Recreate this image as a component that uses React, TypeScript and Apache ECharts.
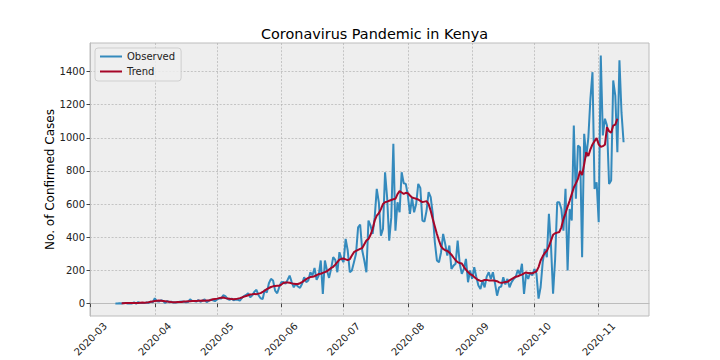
import React, { useEffect, useRef } from "react";
import * as echarts from "echarts";

// Daily confirmed cases, starting 2020-03-13
const observedStartDate = "2020-03-13";
const observed = [
  // Mar 13 - Mar 31
  1, 0, 2, 0, 3, 4, 0, 0, 1, 8, 0, 9, 3, 3, 3, 7, 4, 12, 8,
  // April
  32, 14, 12, 20, 16, 4, 16, 8, 11, 6, 7, 8, 11, 12, 11, 8, 9, 26, 15, 16, 12, 22, 11, 18, 25, 8, 16, 24, 20, 15,
  // May
  25, 30, 30, 50, 45, 28, 22, 30, 20, 25, 23, 18, 35, 45, 52, 62, 38, 50, 72, 83, 50, 32, 28, 83, 66, 123, 149, 139, 78, 62, 100,
  // June
  129, 131, 119, 143, 169, 130, 98, 119, 103, 95, 120, 159, 129, 139, 189, 170, 215, 143, 169, 260, 58, 260, 200, 155, 210, 280, 264, 189, 310, 270,
  // July
  250, 390, 320, 189, 200, 250, 300, 460, 477, 320, 260, 189, 501, 470, 420, 520, 692, 611, 410, 450, 792, 640, 380, 520, 964, 440, 611, 551, 792, 726, 722,
  // August
  652, 541, 640, 551, 600, 722, 698, 501, 495, 560, 672, 642, 541, 370, 260, 249, 310, 420, 360, 290, 350, 209, 229, 240, 380, 240, 179, 209, 270, 129, 200,
  // September
  149, 219, 160, 109, 88, 139, 98, 163, 189, 149, 189, 123, 48, 98, 103, 159, 115, 149, 98, 129, 149, 160, 203, 175, 240, 58, 179, 149, 189, 170,
  // October
  209, 180, 30, 100, 249, 330, 280, 541, 350, 60, 270, 611, 611, 571, 440, 692, 200, 571, 501, 1074, 632, 953, 943, 280, 1024, 883, 1000, 1235, 1396, 692, 732,
  // Nov 1 - Nov 13
  491, 1497, 1014, 1115, 1074, 722, 742, 1346, 1255, 913, 1467, 1150, 973,
];

// Trend (centred weekly mean), starting 2020-03-16
const trendStartDate = "2020-03-16";
const trend = [
  2, 2, 3, 3, 3, 4, 4, 4, 4, 5, 6, 5, 6, 8, 11, 13,
  15, 17, 18, 17, 16, 14, 12, 11, 9, 8, 8, 9, 9, 10, 12, 13, 14, 14, 15, 16, 16, 17, 17, 18, 17, 19, 19, 22, 26, 28,
  30, 33, 35, 37, 33, 31, 29, 27, 26, 27, 30, 33, 37, 42, 46, 50, 55, 56, 58, 57, 60, 63, 70, 79, 87, 94, 100, 104, 106, 107, 108,
  115, 124, 127, 127, 126, 122, 120, 118, 118, 123, 130, 138, 148, 155, 160, 162, 165, 172, 178, 180, 185, 190, 195, 205, 215, 222, 235, 250, 265, 270,
  272, 267, 262, 268, 290, 310, 318, 324, 330, 335, 358, 380, 390, 415, 450, 500, 530, 545, 570, 600, 611, 615, 620, 625, 630, 632, 660, 678, 670, 662, 668,
  666, 652, 640, 636, 632, 628, 620, 612, 615, 618, 600, 560, 510, 465, 420, 380, 345, 330, 322, 318, 308, 295, 278, 262, 250, 245, 242, 222, 205, 190, 178,
  172, 160, 150, 142, 137, 138, 142, 143, 140, 139, 140, 138, 135, 128, 125, 127, 130, 131, 140, 148, 155, 162, 165, 170, 175, 182, 188, 184, 183, 183,
  188, 195, 220, 260, 285, 305, 318, 345, 380, 415, 424, 428, 432, 460, 510, 545, 585, 620, 660, 700, 725, 752, 800, 775, 840, 913, 890, 930, 960, 980, 998,
  960, 945, 950, 958, 1064, 1040, 1030, 1074, 1080, 1115,
];

const monthTickDates = [
  "2020-03-01", "2020-04-01", "2020-05-01", "2020-06-01", "2020-07-01",
  "2020-08-01", "2020-09-01", "2020-10-01", "2020-11-01",
];
const monthTickLabels = [
  "2020-03", "2020-04", "2020-05", "2020-06", "2020-07",
  "2020-08", "2020-09", "2020-10", "2020-11",
];
const yTicks = [0, 200, 400, 600, 800, 1000, 1200, 1400];

function ts(iso: string, offsetDays = 0): number {
  const [y, m, d] = iso.split("-").map(Number);
  return Date.UTC(y, m - 1, d + offsetDays);
}

export default function App() {
  const ref = useRef<HTMLDivElement>(null);

  useEffect(() => {
    if (!ref.current) return;
    const chart = echarts.init(ref.current, null, { renderer: "svg" });

    const obsData = observed.map((v, i) => [ts(observedStartDate, i), v]);
    const trendData = trend.map((v, i) => [ts(trendStartDate, i), v]);
    const tickValues = monthTickDates.map((s) => ts(s));

    const first = obsData[0][0] as number;
    const last = obsData[obsData.length - 1][0] as number;
    const span = last - first;
    const xMin = first - span * 0.05;
    const xMax = last + span * 0.05;
    const maxV = Math.max(...observed);
    const minV = Math.min(...observed);
    const yMin = minV - (maxV - minV) * 0.05;
    const yMax = maxV + (maxV - minV) * 0.05;

    const font = "DejaVu Sans";
    const gridLine = { show: true, lineStyle: { color: "#b2b2b2", type: [2, 1.6], width: 0.7 } };

    chart.setOption({
      animation: false,
      textStyle: { fontFamily: font },
      title: {
        text: "Coronavirus Pandemic in Kenya",
        left: 369.5,
        textAlign: "center",
        top: 22,
        textStyle: { fontFamily: font, fontSize: 14.4, fontWeight: "normal", color: "#000" },
      },
      legend: {
        orient: "vertical",
        left: 95,
        top: 48,
        padding: [3, 6, 4, 5],
        itemGap: 4,
        itemWidth: 22,
        itemHeight: 2,
        icon: "rect",
        backgroundColor: "rgba(238,238,238,0.85)",
        borderColor: "#cfcfcf",
        borderWidth: 1,
        borderRadius: 3,
        textStyle: { fontFamily: font, fontSize: 10, color: "#222", lineHeight: 11 },
        data: ["Observed", "Trend"],
      },
      grid: {
        left: 90,
        right: 71,
        top: 43,
        bottom: 44,
        show: true,
        backgroundColor: "#eeeeee",
        borderColor: "#bcbcbc",
        borderWidth: 1,
        outerBoundsMode: "none",
      },
      xAxis: {
        type: "value",
        min: xMin,
        max: xMax,
        axisLine: { show: true, lineStyle: { color: "#bcbcbc" } },
        axisTick: { show: true, customValues: tickValues, length: 3.5, lineStyle: { color: "#444" } },
        axisLabel: {
          customValues: tickValues,
          rotate: 45,
          align: "center",
          verticalAlign: "middle",
          margin: 23,
          fontSize: 10,
          color: "#222",
          fontFamily: font,
          formatter: (v: number) => {
            const i = tickValues.indexOf(v);
            if (i >= 0) return monthTickLabels[i];
            const d = new Date(v);
            return d.getUTCFullYear() + "-" + String(d.getUTCMonth() + 1).padStart(2, "0");
          },
        },
        splitLine: gridLine,
      },
      yAxis: {
        type: "value",
        min: yMin,
        max: yMax,
        name: "No. of Confirmed Cases",
        nameLocation: "middle",
        nameGap: 34,
        nameMoveOverlap: false,
        nameTextStyle: { fontFamily: font, fontSize: 12, color: "#000" },
        axisLine: { show: true, lineStyle: { color: "#bcbcbc" } },
        axisTick: { show: true, customValues: yTicks, length: 3.5, lineStyle: { color: "#444" } },
        axisLabel: {
          customValues: yTicks,
          margin: 5,
          fontSize: 10,
          color: "#222",
          fontFamily: font,
          formatter: (v: number) => String(v),
        },
        splitLine: gridLine,
      },
      series: [
        {
          name: "Observed",
          type: "line",
          data: obsData,
          symbol: "none",
          showSymbol: false,
          lineStyle: { color: "#348ABD", width: 2 },
          itemStyle: { color: "#348ABD" },
          z: 2,
        },
        {
          name: "Trend",
          type: "line",
          data: trendData,
          symbol: "none",
          showSymbol: false,
          lineStyle: { color: "#A60628", width: 2 },
          itemStyle: { color: "#A60628" },
          z: 3,
        },
      ],
    });

    return () => chart.dispose();
  }, []);

  return (
    <div
      ref={ref}
      style={{ position: "fixed", left: 0, top: 0, width: 720, height: 360, background: "#fff" }}
    />
  );
}
